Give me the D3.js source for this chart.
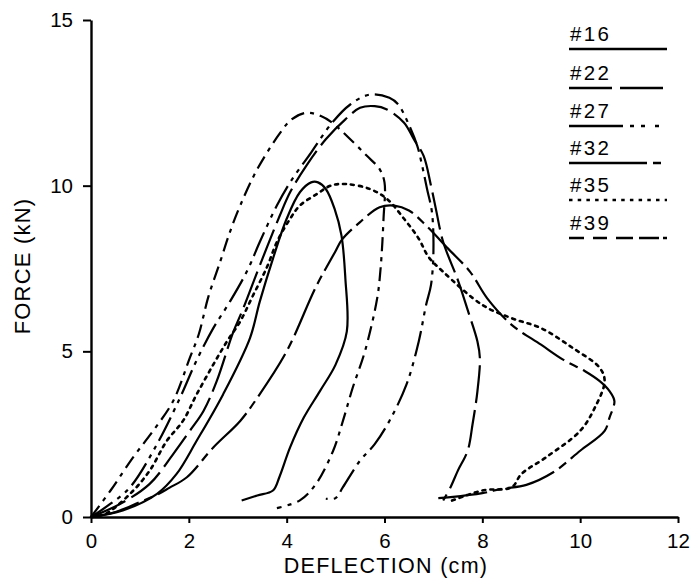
<!DOCTYPE html>
<html>
<head>
<meta charset="utf-8">
<script src="https://cdn.jsdelivr.net/npm/d3@7"></script>
<style>
html,body{margin:0;padding:0;background:#fff;}
svg{display:block;}
text{font-family:"Liberation Sans",Arial,Helvetica,sans-serif;fill:#000;}
</style>
</head>
<body>
<svg id="chart" width="690" height="587"></svg>
<script>
// ---- data ----
const seriesNames = ["#16", "#22", "#27", "#32", "#35", "#39"];
const xTicks = [0, 2, 4, 6, 8, 10, 12];
const yTicks = [0, 5, 10, 15];
const xTitle = "DEFLECTION (cm)";
const yTitle = "FORCE (kN)";

// #16 solid
const s16 = [[0,0],[0.65,0.2],[1.35,0.7],[1.75,1.3],[2.16,2.3],[2.7,3.7],[3.25,5.4],[3.45,6.5],[3.72,7.8],[4.0,9.0],[4.27,9.8],[4.5,10.1],[4.64,10.1],[4.8,9.9],[4.98,9.3],[5.12,8.5],[5.2,7.2],[5.23,5.6],[5.0,4.6],[4.68,3.8],[4.35,3.0],[4.07,2.1],[3.85,1.2],[3.72,0.8],[3.4,0.65],[3.08,0.5]];
// #22 long dash
const s22 = [[0,0],[0.6,0.4],[1.2,1.0],[1.68,1.9],[2.02,2.6],[2.3,3.2],[2.57,4.1],[2.9,5.55],[3.1,6.25],[3.4,7.4],[3.6,8.15],[3.86,9.1],[4.07,9.8],[4.4,10.6],[4.8,11.4],[5.2,12.0],[5.5,12.35],[5.8,12.4],[6.05,12.3],[6.4,11.9],[6.6,11.4],[6.8,10.9],[6.95,10.0],[7.05,9.3],[7.2,8.3],[7.5,7.15],[7.7,6.25],[7.9,5.3],[7.95,4.8],[7.9,3.8],[7.8,2.8],[7.7,2.0],[7.5,1.4],[7.35,0.9],[7.2,0.5]];
// #27 dash + dots
const s27 = [[0,0],[0.4,0.4],[0.8,0.9],[1.35,2.2],[1.82,3.6],[2.15,4.7],[2.5,5.7],[2.84,6.5],[3.2,7.45],[3.45,8.3],[3.8,9.4],[4.07,10.1],[4.5,11.0],[4.93,11.9],[5.3,12.45],[5.7,12.75],[6.1,12.65],[6.28,12.45],[6.48,11.9],[6.67,11.2],[6.77,10.6],[6.87,9.9],[6.97,9.2],[7.0,8.0],[6.95,7.0],[6.85,6.4],[6.7,5.3],[6.45,4.0],[6.1,2.9],[5.8,2.2],[5.5,1.7],[5.15,0.9],[5.0,0.57],[4.8,0.55]];
// #32 long dash + short dash
const s32 = [[0,0],[0.5,0.15],[1.0,0.45],[1.35,0.67],[1.6,0.88],[1.96,1.2],[2.5,2.1],[3.05,2.9],[3.4,3.6],[4.0,5.0],[4.6,6.95],[4.99,8.0],[5.13,8.37],[5.5,8.9],[5.9,9.35],[6.2,9.4],[6.5,9.25],[6.85,8.8],[7.3,8.1],[7.75,7.4],[8.1,6.6],[8.6,5.8],[9.2,5.2],[9.65,4.75],[10.1,4.4],[10.4,4.1],[10.6,3.8],[10.7,3.5],[10.6,3.0],[10.5,2.6],[10.0,2.0],[9.45,1.35],[8.9,0.97],[8.4,0.85],[8.0,0.72],[7.35,0.6],[7.1,0.57]];
// #35 dotted
const s35 = [[0,0],[0.3,0.1],[0.8,0.7],[1.2,1.4],[1.55,2.3],[1.88,2.9],[2.16,3.7],[2.5,4.6],[2.78,5.3],[3.05,5.9],[3.3,6.65],[3.6,7.55],[3.8,8.3],[4.07,9.0],[4.27,9.4],[4.62,9.75],[4.9,10.0],[5.2,10.05],[5.7,9.9],[6.05,9.6],[6.4,9.0],[6.7,8.4],[6.9,7.85],[7.2,7.4],[8.0,6.4],[8.6,6.0],[9.2,5.7],[9.85,5.1],[10.4,4.5],[10.5,4.1],[10.3,3.3],[10.0,2.6],[9.3,1.8],[8.8,1.3],[8.6,0.9],[8.0,0.8],[7.3,0.45]];
// #39 medium dash + dot
const s39 = [[0,0],[0.4,0.8],[0.86,1.8],[1.27,2.6],[1.68,3.5],[2.02,4.8],[2.2,5.5],[2.4,6.65],[2.64,7.7],[2.84,8.6],[3.05,9.4],[3.4,10.5],[3.87,11.6],[4.1,12.0],[4.4,12.2],[4.7,12.1],[4.93,11.9],[5.3,11.4],[5.64,10.9],[5.9,10.5],[6.0,10.1],[5.98,9.0],[5.92,7.5],[5.85,6.6],[5.6,5.0],[5.35,3.9],[5.15,2.9],[4.95,2.0],[4.6,1.0],[4.27,0.5],[3.8,0.27]];

const seriesData = [s16, s22, s27, s32, s35, s39];

// ---- styling (not data) ----
const curveDash = ["none", "38,7", "26,6,4,6,4,6", "50,6,9,6", "3,5", "14,6,4,6"];
const legendDash = ["none", "43,8", "54,7,4,7,4,10,4,40", "78,6,8,40", "3.5,5.2", "15,9,14,9,17,6,20,4,4,40"];

const svg = d3.select("#chart");
const x = d3.scaleLinear().domain([0, 12]).range([91, 678]);
const y = d3.scaleLinear().domain([0, 15]).range([517, 20]);

// axes
const xAxis = d3.axisBottom(x).tickValues(xTicks).tickSize(6).tickPadding(10).tickSizeOuter(0).tickFormat(d3.format("d"));
const yAxis = d3.axisLeft(y).tickValues(yTicks).tickSize(8).tickPadding(10).tickSizeOuter(0).tickFormat(d3.format("d"));

const gx = svg.append("g").attr("transform", `translate(0,${y(0)})`).call(xAxis);
const gy = svg.append("g").attr("transform", `translate(${x(0)},0)`).call(yAxis);
[gx, gy].forEach(g => {
  g.select(".domain").attr("stroke", "#000").attr("stroke-width", 2.4);
  g.selectAll(".tick line").attr("stroke", "#000").attr("stroke-width", 2);
  g.selectAll(".tick text").attr("font-size", 20.5).attr("fill", "#000")
    .style("font-family", '"Liberation Sans", Arial, sans-serif');
});

// axis titles
svg.append("text").attr("x", 386).attr("y", 573).attr("text-anchor", "middle")
  .attr("font-size", 21.5).attr("letter-spacing", 1.3).text(xTitle);
svg.append("text").attr("transform", "translate(30,266) rotate(-90)").attr("text-anchor", "middle")
  .attr("font-size", 22).attr("letter-spacing", 1.2).text(yTitle);

// curves
const line = d3.line().x(d => x(d[0])).y(d => y(d[1])).curve(d3.curveCatmullRom.alpha(0.5));
const curves = svg.append("g");
seriesData.forEach((s, i) => {
  curves.append("path").datum(s)
    .attr("d", line)
    .attr("fill", "none")
    .attr("stroke", "#000")
    .attr("stroke-width", i === 4 ? 2.6 : 2.2)
    .attr("stroke-linecap", i === 4 ? "round" : "butt")
    .attr("stroke-dasharray", curveDash[i]);
});

// legend
const legendLineY = [49, 88, 126, 163, 200, 238];
const lg = svg.append("g");
seriesNames.forEach((name, i) => {
  lg.append("text").attr("x", 570).attr("y", legendLineY[i] - 8.5)
    .attr("font-size", 20.5).attr("letter-spacing", 2.4).text(name);
  lg.append("line").attr("x1", 569).attr("x2", 667)
    .attr("y1", legendLineY[i]).attr("y2", legendLineY[i])
    .attr("stroke", "#000").attr("stroke-width", 2.4)
    .attr("stroke-dasharray", legendDash[i]);
});
</script>
</body>
</html>
